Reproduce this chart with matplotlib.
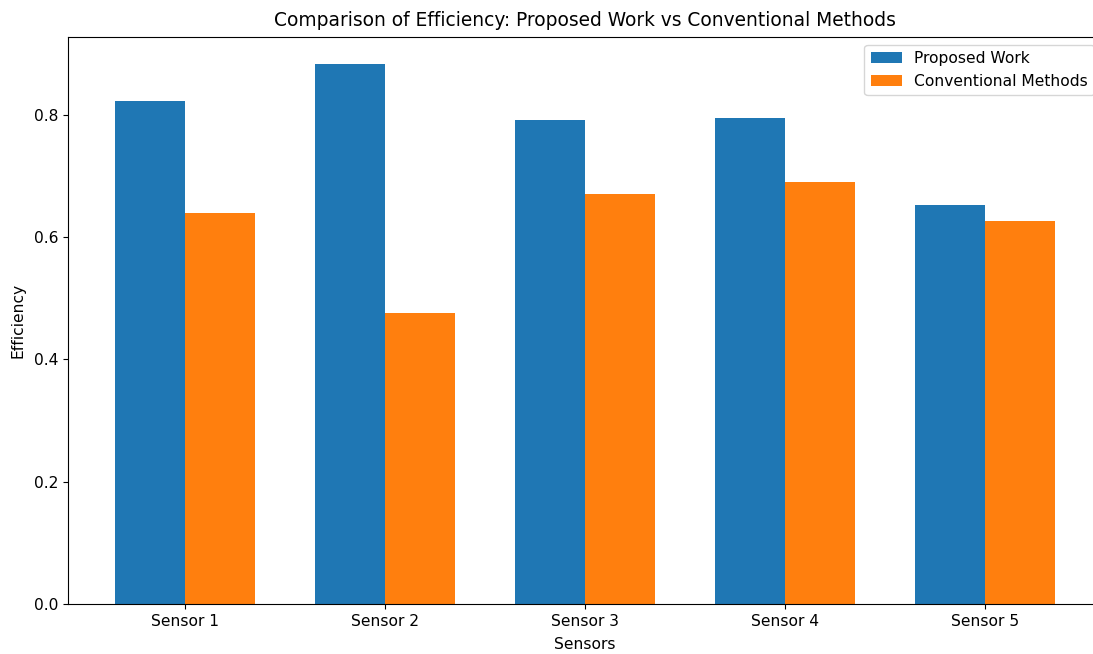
import matplotlib.pyplot as plt
import numpy as np

sensors = ['Sensor 1', 'Sensor 2', 'Sensor 3', 'Sensor 4', 'Sensor 5']
proposed = [0.823, 0.883, 0.792, 0.795, 0.653]
conventional = [0.640, 0.476, 0.671, 0.690, 0.627]

plt.rcParams['font.size'] = 11.2

fig = plt.figure(figsize=(10.93, 6.54), dpi=100)
# la imagen original esta recortada por la derecha
ax = fig.add_axes([0.0622, 0.0765, 0.946, 0.867])

x = np.arange(len(sensors))
ancho = 0.35
ax.bar(x - ancho / 2, proposed, ancho, label='Proposed Work', color='#1f77b4')
ax.bar(x + ancho / 2, conventional, ancho, label='Conventional Methods', color='#ff7f0e')

ax.set_xticks(x)
ax.set_xticklabels(sensors)
ax.set_xlabel('Sensors', labelpad=6)
ax.set_ylabel('Efficiency', labelpad=6)
ax.set_title('Comparison of Efficiency: Proposed Work vs Conventional Methods', fontsize=13.4, pad=8)
ax.legend(loc='upper right')

fig.savefig('out.png', dpi=100)
